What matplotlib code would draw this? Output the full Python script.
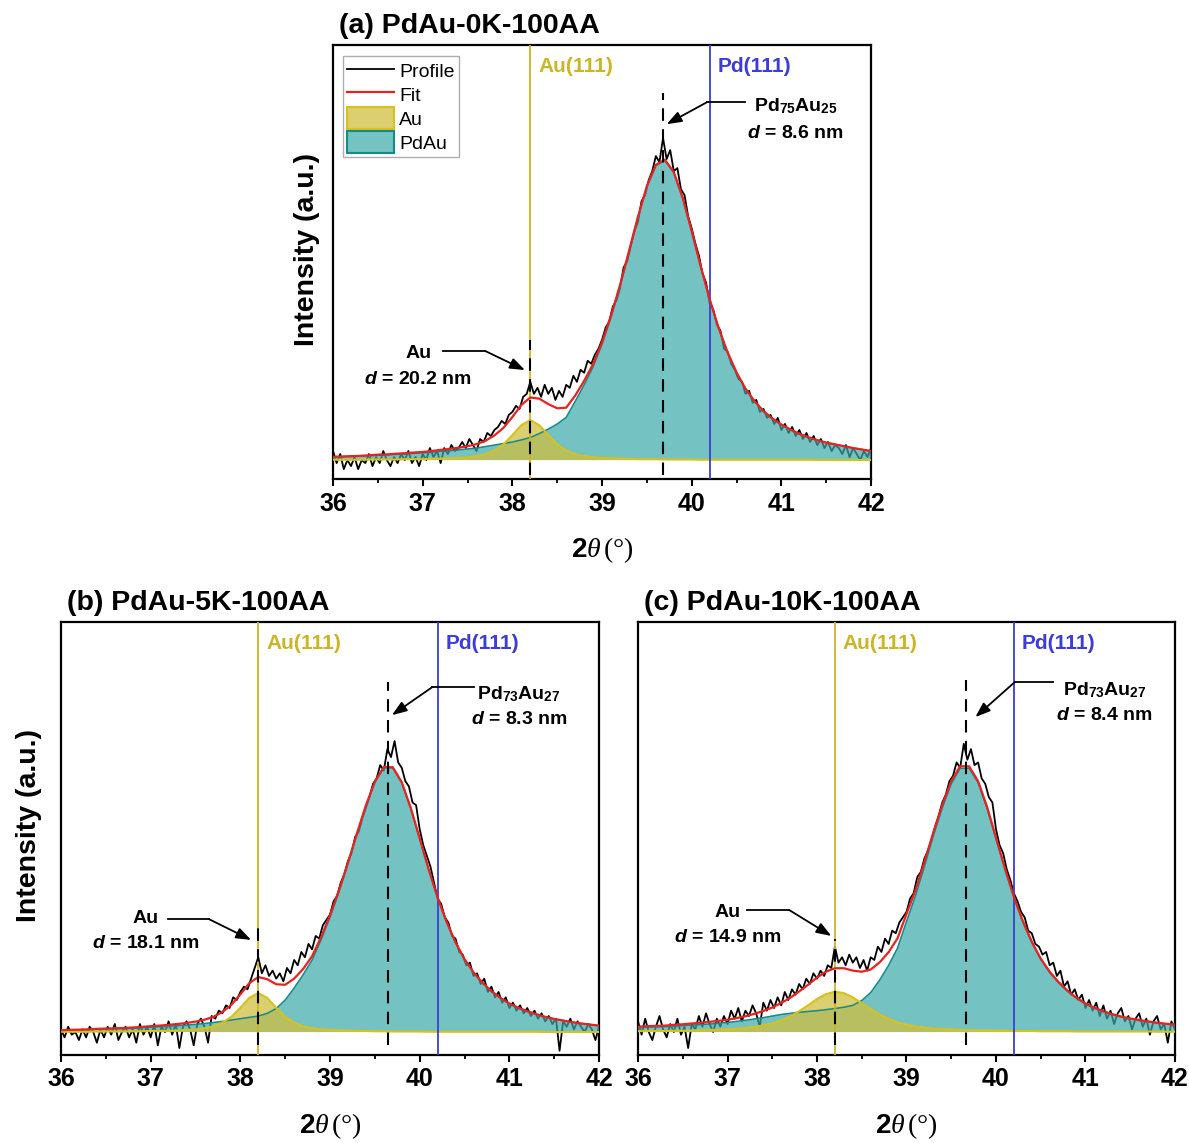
import numpy as np
import matplotlib
matplotlib.use('Agg')
import matplotlib.pyplot as plt
from matplotlib.patches import Patch
from matplotlib.lines import Line2D
from matplotlib.ticker import MultipleLocator

plt.rcParams['font.family'] = ['Liberation Sans', 'DejaVu Sans']
plt.rcParams['mathtext.fontset'] = 'custom'
plt.rcParams['mathtext.rm'] = 'Liberation Sans:bold'
plt.rcParams['mathtext.bf'] = 'Liberation Sans:bold'
plt.rcParams['mathtext.it'] = 'Liberation Serif:italic'
plt.rcParams['mathtext.sf'] = 'Liberation Serif'
plt.rcParams['mathtext.bfit'] = 'Liberation Sans:italic:bold'

# 2theta grids: fitted components every 0.1 deg, measured profile every 0.04 deg
x_fit = np.linspace(36, 42, 61)
x_prof = np.linspace(36, 42, 151)

# ---------- (a) PdAu-0K-100AA ----------
pdau_a = [1.0, 1.1, 1.2, 1.3, 1.4, 1.6, 1.7, 1.9, 2.0, 2.2,
          2.4, 2.6, 2.9, 3.1, 3.4, 3.7, 4.0, 4.5, 5.0, 5.5,
          6.0, 6.7, 7.5, 8.8, 10.3, 12.0, 14.2, 19.5, 25.0, 31.0,
          38.5, 47.4, 57.6, 69.0, 80.5, 90.8, 97.8, 99.6, 95.5, 86.9,
          75.9, 64.3, 53.4, 43.8, 35.7, 29.0, 23.6, 19.5, 16.2, 13.7,
          11.7, 10.1, 8.6, 7.5, 6.6, 5.8, 5.2, 4.6, 4.0, 3.5, 3.0]
au_a = [0.1, 0.1, 0.1, 0.1, 0.2, 0.2, 0.2, 0.2, 0.3, 0.3,
        0.3, 0.4, 0.5, 0.6, 0.7, 0.9, 1.3, 1.9, 3.2, 5.2,
        8.3, 11.6, 13.3, 11.6, 8.3, 5.2, 3.2, 1.9, 1.3, 0.9,
        0.7, 0.6, 0.5, 0.4, 0.3, 0.3, 0.3, 0.2, 0.2, 0.2,
        0.2, 0.1, 0.1, 0.1, 0.1, 0.1, 0.1, 0.1, 0.1, 0.1,
        0.1, 0.1, 0.1, 0.1, 0.0, 0.0, 0.0, 0.0, 0.0, 0.0, 0.0]
prof_a = [3, -1, 2, -3, 0, -2, 1, -3, 0, -1, 2, -2, 1, -1, 3, 0, -2, 1, -1, 2, 0, 3, -1, 1, -2,
          2, 0, 4, 1, 3, -1, 4, 2, 5, 3, 4, 6, 4, 7, 5, 3, 7, 6, 9, 8, 10, 11, 13, 12, 15,
          16, 18, 17, 21, 22, 26, 22, 24, 21, 25, 22, 24, 20, 23, 21, 25, 24, 28, 26, 30, 29, 33, 32, 35, 37,
          40, 44, 46, 51, 53, 57, 64, 66, 71, 76, 79, 86, 88, 93, 96, 101, 99, 107, 100, 103, 96, 97, 90, 88, 81,
          77, 72, 68, 62, 59, 52, 50, 45, 43, 37, 36, 32, 30, 27, 26, 22, 23, 19, 20, 16, 17, 14, 15, 12, 14,
          10, 12, 9, 11, 8, 10, 7, 9, 6, 8, 5, 7, 4, 6, 3, 5, 4, 2, 5, 1, 4, 2, 0, 3, 1, 4]

# ---------- (b) PdAu-5K-100AA ----------
pdau_b = [0.6, 0.7, 0.8, 0.9, 1.0, 1.1, 1.2, 1.3, 1.4, 1.6,
          1.8, 2.0, 2.2, 2.4, 2.6, 2.9, 3.2, 3.6, 4.0, 4.5,
          5.0, 5.5, 6.0, 7.0, 8.8, 12.0, 16.5, 21.5, 27.0, 34.5,
          43.0, 52.5, 63.0, 74.0, 84.5, 93.5, 99.0, 99.0, 93.4, 83.8,
          72.4, 60.9, 50.3, 41.2, 33.5, 27.2, 22.3, 18.4, 15.2, 12.7,
          10.6, 9.0, 7.7, 6.6, 5.7, 4.9, 4.3, 3.7, 3.2, 2.8, 2.4]
au_b = [0.1, 0.1, 0.1, 0.1, 0.2, 0.2, 0.2, 0.2, 0.3, 0.3,
        0.4, 0.4, 0.5, 0.6, 0.8, 1.0, 1.4, 2.1, 3.5, 5.7,
        9.1, 12.8, 14.6, 12.8, 9.1, 5.7, 3.5, 2.1, 1.4, 1.0,
        0.8, 0.6, 0.5, 0.4, 0.4, 0.3, 0.3, 0.2, 0.2, 0.2,
        0.2, 0.1, 0.1, 0.1, 0.1, 0.1, 0.1, 0.1, 0.1, 0.1,
        0.1, 0.1, 0.1, 0.1, 0.0, 0.0, 0.0, 0.0, 0.0, 0.0, 0.0]
prof_b = [1, -2, 2, -1, 0, -3, 1, -2, 2, 0, -4, 1, -2, 2, -1, 3, -3, 0, 2, -2, 1, -4, 3, -1, 2,
          -2, 3, -5, 2, 0, 4, -1, 3, -6, 2, 4, 1, -5, 3, 5, 2, -4, 6, 5, 8, 7, 10, 9, 13, 12,
          15, 17, 16, 20, 24, 28, 22, 25, 21, 23, 20, 22, 19, 24, 22, 27, 25, 30, 28, 33, 31, 36, 35, 40, 42,
          44, 49, 51, 56, 59, 64, 67, 73, 75, 80, 84, 88, 93, 95, 100, 98, 106, 103, 109, 101, 99, 94, 92, 86, 85,
          76, 70, 66, 62, 56, 50, 48, 43, 41, 36, 35, 30, 29, 25, 26, 21, 22, 18, 20, 15, 17, 13, 15, 11, 13,
          9, 11, 8, 10, 7, 9, 6, 8, 5, 7, 4, 6, 3, 5, -7, 4, 2, 5, 1, 4, 2, 0, 3, 1, -3, 2]

# ---------- (c) PdAu-10K-100AA ----------
pdau_c = [1.7, 1.8, 1.9, 2.0, 2.2, 2.4, 2.6, 2.8, 3.0, 3.3,
          3.6, 4.0, 4.4, 4.9, 5.4, 6.0, 6.6, 7.0, 7.4, 7.7,
          8.0, 8.4, 8.8, 9.3, 10.0, 11.8, 14.8, 19.5, 25.0, 31.5,
          41.5, 51.0, 62.0, 73.5, 84.0, 93.0, 98.8, 98.8, 93.4, 83.8,
          72.4, 60.9, 50.3, 41.2, 33.5, 27.2, 22.3, 18.4, 15.2, 12.6,
          10.5, 8.9, 7.6, 6.5, 5.6, 4.9, 4.3, 3.8, 3.4, 3.0, 2.7]
au_c = [0.3, 0.4, 0.4, 0.4, 0.5, 0.5, 0.6, 0.7, 0.8, 0.9,
        1.0, 1.2, 1.5, 1.9, 2.5, 3.2, 4.3, 5.8, 7.8, 10.0,
        12.4, 14.2, 15.1, 14.6, 13.0, 10.8, 8.6, 6.6, 4.9, 3.6,
        2.7, 2.1, 1.7, 1.3, 1.1, 1.0, 0.8, 0.7, 0.6, 0.6,
        0.5, 0.5, 0.4, 0.4, 0.4, 0.3, 0.3, 0.3, 0.3, 0.2,
        0.2, 0.2, 0.2, 0.2, 0.2, 0.2, 0.2, 0.2, 0.1, 0.1, 0.1]
prof_c = [4, -1, 5, 0, -3, 2, 6, 1, -2, 3, 0, 5, -1, 2, -6, 3, 1, 6, 2, 7, 3, 0, 5, 2, 6,
          3, 8, 5, 9, 4, 8, 6, 10, 7, 2, 11, 8, 12, 9, 13, 10, 15, 12, 16, 14, 18, 16, 20, 18, 22,
          20, 23, 21, 25, 24, 32, 26, 28, 25, 29, 26, 28, 24, 27, 23, 28, 27, 32, 30, 35, 33, 38, 37, 41, 43,
          45, 50, 52, 58, 60, 65, 68, 72, 77, 81, 86, 89, 94, 96, 101, 99, 108, 102, 106, 100, 101, 95, 93, 88, 86,
          76, 70, 67, 61, 57, 52, 49, 45, 43, 38, 37, 33, 32, 29, 30, 25, 26, 21, 23, 17, 19, 14, 16, 12, 14,
          9, 12, 8, 11, 6, 10, 5, 8, 3, 7, 9, 4, 6, 1, 5, 7, 2, 5, -1, 4, 6, 1, 3, -4, 4, 1]

titles = ['(a) PdAu-0K-100AA', '(b) PdAu-5K-100AA', '(c) PdAu-10K-100AA']
alloy_labels = [r'Pd$_{\mathbf{75}}$Au$_{\mathbf{25}}$', r'Pd$_{\mathbf{73}}$Au$_{\mathbf{27}}$',
                r'Pd$_{\mathbf{73}}$Au$_{\mathbf{27}}$']
alloy_size = ['8.6', '8.3', '8.4']
au_size = ['20.2', '18.1', '14.9']
pdau_center = [39.68, 39.65, 39.66]
au_ref, pd_ref = 38.2, 40.2

GOLD = '#cbb526'
BLUE = '#3c3cd8'
RED = '#e8231f'
TEAL_FACE = (0.23, 0.66, 0.66, 0.7)
TEAL_EDGE = '#168a8a'
AU_FACE = (0.81, 0.75, 0.25, 0.75)
AU_EDGE = '#d6c21c'

fig = plt.figure(figsize=(11.89, 11.43), dpi=100)
axes = [fig.add_axes([0.2801, 0.5809, 0.4525, 0.3797]),
        fig.add_axes([0.0513, 0.0770, 0.4525, 0.3788]),
        fig.add_axes([0.5366, 0.0770, 0.4516, 0.3788])]

# layout of annotations per panel (data coords)
ylims = [(-6.3, 137.9), (-8.6, 153.6), (-8.6, 153.6)]
pd_dash_top = [122, 131, 132]
au_dash_top = [40, 41, 35]
pd_arrow = [((40.59, 118.9), (40.17, 118.9), (39.72, 111.6)),
            ((40.61, 129.2), (40.14, 129.2), (39.69, 118.7)),
            ((40.64, 131.1), (40.21, 131.1), (39.77, 118.0))]
pd_text = [(41.16, 117.6, 108.6), (41.11, 126.6, 117.2), (41.21, 128.1, 118.4)]
au_arrow = [((37.23, 36.2), (37.70, 36.2), (38.14, 29.9)),
            ((37.19, 42.3), (37.65, 42.3), (38.12, 34.5)),
            ((37.22, 45.7), (37.69, 45.7), (38.16, 36.0))]
au_text = [(36.95, 35.5, 26.9), (36.94, 42.7, 33.3), (37.0, 44.9, 35.6)]

data = [(pdau_a, au_a, prof_a), (pdau_b, au_b, prof_b), (pdau_c, au_c, prof_c)]

for i, ax in enumerate(axes):
    pdau, au, prof = [np.array(v) for v in data[i]]
    fit = pdau + au

    ax.plot(x_prof, prof, color='black', lw=1.3, zorder=2)
    ax.fill_between(x_fit, 0, pdau, facecolor=TEAL_FACE, edgecolor='none', zorder=3)
    ax.fill_between(x_fit, 0, au, facecolor=AU_FACE, edgecolor='none', zorder=3.1)
    ax.plot(x_fit, pdau, color=TEAL_EDGE, lw=1.1, zorder=3.2)
    ax.plot(x_fit, au, color=AU_EDGE, lw=1.5, zorder=3.3)
    ax.plot(x_fit, fit, color=RED, lw=1.6, zorder=5)

    ax.axvline(au_ref, color=GOLD, lw=1.3, zorder=4)
    ax.axvline(pd_ref, color=BLUE, lw=1.3, zorder=4)
    xt = ax.get_xaxis_transform()
    ax.text(au_ref + 0.09, 0.95, 'Au(111)', transform=xt, color=GOLD, fontsize=15,
            fontweight='bold', va='center', ha='left')
    ax.text(pd_ref + 0.09, 0.95, 'Pd(111)', transform=xt, color=BLUE, fontsize=15,
            fontweight='bold', va='center', ha='left')

    ax.plot([pdau_center[i]] * 2, [-5, pd_dash_top[i]], color='black', lw=1.5,
            dashes=(6, 4), zorder=6)
    ax.plot([au_ref] * 2, [-5, au_dash_top[i]], color='black', lw=1.5,
            dashes=(6, 4), zorder=6)

    # annotations
    for (p0, p1, tip) in (pd_arrow[i], au_arrow[i]):
        ax.plot([p0[0], p1[0]], [p0[1], p1[1]], color='black', lw=1.3, zorder=7)
        ax.annotate('', xy=tip, xytext=p1, zorder=7,
                    arrowprops=dict(arrowstyle='-|>,head_length=0.6,head_width=0.22',
                                    color='black', lw=1.3, shrinkA=0, shrinkB=0,
                                    mutation_scale=15))
    tx, ty1, ty2 = pd_text[i]
    ax.text(tx, ty1, alloy_labels[i], fontsize=14, fontweight='bold', ha='center', va='center')
    ax.text(tx, ty2, r'$\mathbfit{d}$ = ' + alloy_size[i] + ' nm', fontsize=14,
            fontweight='bold', ha='center', va='center')
    tx, ty1, ty2 = au_text[i]
    ax.text(tx, ty1, 'Au', fontsize=14, fontweight='bold', ha='center', va='center')
    ax.text(tx, ty2, r'$\mathbfit{d}$ = ' + au_size[i] + ' nm', fontsize=14,
            fontweight='bold', ha='center', va='center')

    ax.set_xlim(36, 42)
    ax.set_ylim(*ylims[i])
    ax.set_yticks([])
    ax.xaxis.set_major_locator(MultipleLocator(1))
    ax.xaxis.set_minor_locator(MultipleLocator(0.5))
    ax.tick_params(axis='x', which='major', direction='out', length=5, width=1.5,
                   labelsize=18, pad=4)
    ax.tick_params(axis='x', which='minor', direction='out', length=3, width=1.3)
    for lab in ax.get_xticklabels():
        lab.set_fontweight('bold')
    for sp in ax.spines.values():
        sp.set_linewidth(1.6)
    ax.set_xlabel(r'$\mathbf{2}\mathit{\theta}\,\mathsf{(°)}$', fontsize=20, labelpad=14)
    ax.text(0.012, 1.028, titles[i], transform=ax.transAxes, fontsize=20.5,
            fontweight='bold', ha='left', va='baseline')

for ax, xpos in zip(axes[:2], [-0.025, -0.035]):
    ax.set_ylabel('Intensity (a.u.)', fontsize=20.5, fontweight='bold')
    ax.yaxis.set_label_coords(xpos, 0.53)

handles = [Line2D([], [], color='black', lw=1.3),
           Line2D([], [], color=RED, lw=1.6),
           Patch(facecolor=AU_FACE, edgecolor=AU_EDGE, lw=1.5),
           Patch(facecolor=TEAL_FACE, edgecolor=TEAL_EDGE, lw=1.5)]
leg = axes[0].legend(handles, ['Profile', 'Fit', 'Au', 'PdAu'], loc='upper left',
                     bbox_to_anchor=(0.0186, 0.9747), borderaxespad=0, fontsize=14,
                     frameon=True, fancybox=False, edgecolor='#999999',
                     handlelength=2.4, handleheight=1.35, handletextpad=0.3,
                     borderpad=0.2, labelspacing=0.1)
leg.get_frame().set_linewidth(1.0)

fig.savefig('out.png', dpi=100)
